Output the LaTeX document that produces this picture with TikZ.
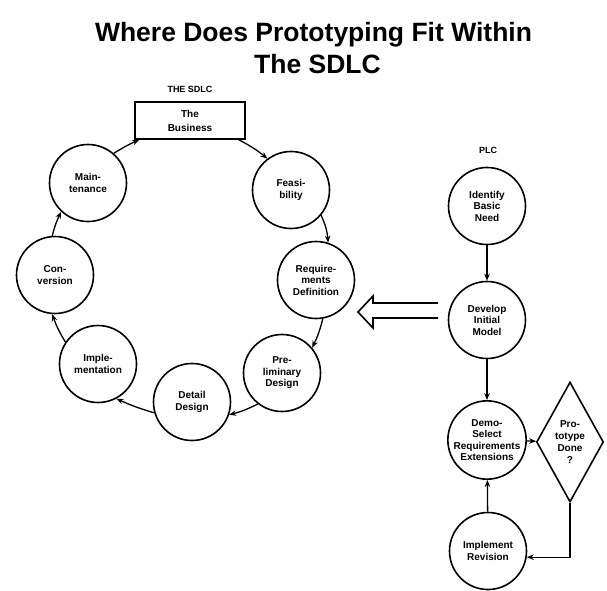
\documentclass[tikz,border=0pt]{standalone}
\usepackage{fontspec}
\setmainfont{Liberation Sans}
\usetikzlibrary{shapes.geometric,arrows.meta}

\begin{document}
\begin{tikzpicture}[x=1pt,y=-1pt,
  stage/.style={circle,draw,line width=1.6pt,minimum size=77pt,inner sep=0pt,align=center,
    font=\fontsize{10}{11.5}\selectfont\bfseries},
  box/.style={rectangle,draw,line width=1.6pt,minimum width=110pt,minimum height=37pt,inner sep=0pt,
    align=center,font=\fontsize{10}{14}\selectfont\bfseries},
  decision/.style={diamond,draw,line width=1.6pt,minimum width=67pt,minimum height=120pt,inner sep=0pt,
    aspect=0.56,align=center,font=\fontsize{10}{12}\selectfont\bfseries},
  flow/.style={line width=1.3pt,-{Stealth[length=7pt,width=5.5pt]}},
  hollow/.style={line width=1.6pt,line join=miter},
  titletext/.style={font=\fontsize{26.5}{30}\selectfont\bfseries,anchor=base,inner sep=0pt},
  smalllabel/.style={font=\fontsize{9}{10}\selectfont\bfseries,inner sep=0pt}
]
\useasboundingbox (0,0) rectangle (607,590);

% titles
\node[titletext] (t1) at (313.5,41) {Where Does Prototyping Fit Within};
\node[titletext] (t2) at (317.5,73) {The SDLC};
\node[smalllabel] (sdlc) at (190,89.5) {THE SDLC};
\node[smalllabel] (plc) at (488,150.5) {PLC};

% SDLC cycle
\node[box] (bus) at (190,120.5) {The\\Business};
\node[stage] (feas) at (291,190) {Feasi-\\bility};
\node[stage] (req) at (316,280) {Require-\\ments\\Definition};
\node[stage] (pre) at (282,373) {Pre-\\liminary\\Design};
\node[stage] (det) at (192,402) {Detail\\Design};
\node[stage] (imp) at (98,364) {Imple-\\mentation};
\node[stage] (con) at (55,275) {Con-\\version};
\node[stage] (mai) at (88,183) {Main-\\tenance};

\draw[flow] ([xshift=-7pt]bus.south east) to[bend left=6] (feas.127);
\draw[flow] (feas.-40) to[bend left=10] (req.72);
\draw[flow] (req.-80) to[bend left=6] (pre.40);
\draw[flow] (pre.-128) to[bend left=6] (det.-19);
\draw[flow] (det.196) to[bend left=4] (imp.-62);
\draw[flow] (imp.146) to[bend left=6] (con.-94);
\draw[flow] (con.94) to[bend left=6] (mai.-133);
\draw[flow] (mai.49) to[bend left=4] ([xshift=5pt]bus.south west);

% PLC
\node[stage] (ide) at (487,206) {Identify\\Basic\\Need};
\node[stage] (dev) at (487,320) {Develop\\Initial\\Model};
\node[stage] (dem) at (487,440) {Demo-\\Select\\Requirements\\Extensions};
\node[decision] (dia) at (570,442) {Pro-\\totype\\Done\\?};
\node[stage] (rev) at (488,551) {Implement\\Revision};

\draw[flow] (ide) -- (dev);
\draw[flow] (dev) -- (dem);
\draw[flow] (dem) -- (dia);
\draw[flow] (dia.south) |- (rev.-9);
\draw[flow] (rev) -- (dem);

% hollow arrow from PLC to SDLC
\coordinate (h1) at (438,303);
\coordinate (h2) at (373,303);
\coordinate (h3) at (373,296);
\coordinate (tip) at (358,312);
\coordinate (h4) at (373,328);
\coordinate (h5) at (373,318);
\coordinate (h6) at (438,318);
\draw[hollow] (h1) -- (h2) -- (h3) -- (tip) -- (h4) -- (h5) -- (h6);
\end{tikzpicture}
\end{document}
